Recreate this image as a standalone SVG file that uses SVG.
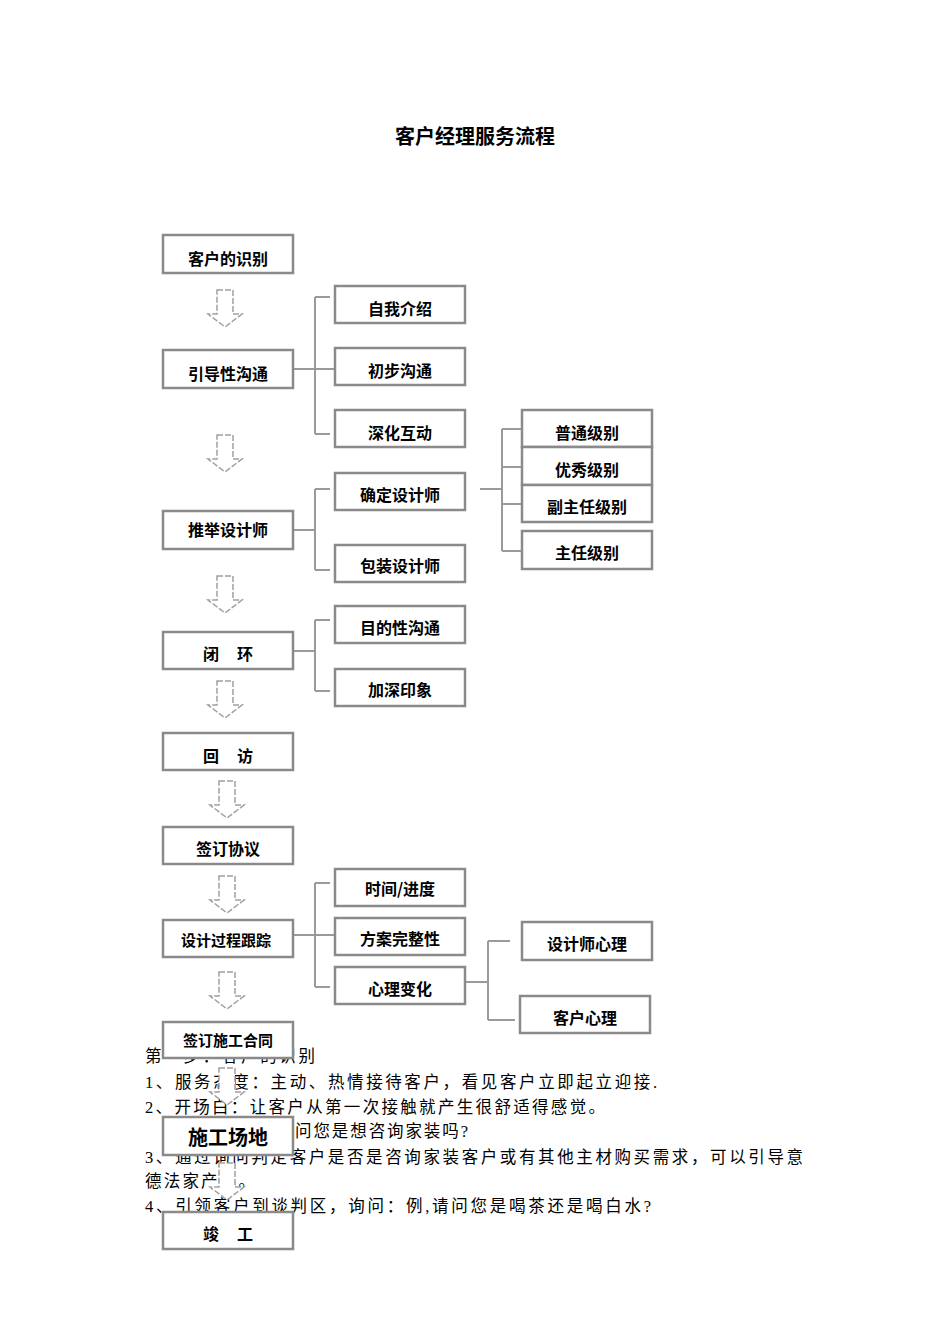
<svg xmlns="http://www.w3.org/2000/svg" width="950" height="1344" viewBox="0 0 950 1344">
<style>
.b{fill:#fff;stroke:#8a8a8a;stroke-width:2.5}
.t{font-family:"Noto Sans CJK SC","Noto Sans CJK JP",sans-serif;font-weight:bold;font-size:16px;fill:#000;text-anchor:middle}
.p{font-family:"Liberation Serif","Noto Sans CJK SC",serif;font-size:16.5px;fill:#000}
.l{fill:none;stroke:#9a9a9a;stroke-width:2}
.a{fill:#fff;stroke:#a0a0a0;stroke-width:1.5;stroke-dasharray:6 2}
</style>
<defs>
<path id="arr" d="M-8,0 H8 V24 H17 L0,37 L-17,24 H-8 Z"/>
</defs>
<rect width="950" height="1344" fill="#fff"/>
<text x="475" y="144" class="t" style="font-size:20px">客户经理服务流程</text>
<g id="para" class="p">
<text x="145" y="1062" textLength="170" lengthAdjust="spacing">第一步：客户的识别</text>
<text x="145" y="1088" textLength="512" lengthAdjust="spacing">1、服务态度：主动、热情接待客户，看见客户立即起立迎接.</text>
<text x="145" y="1113" textLength="460" lengthAdjust="spacing">2、开场白：让客户从第一次接触就产生很舒适得感觉。</text>
<text x="295" y="1137" textLength="173" lengthAdjust="spacing">问您是想咨询家装吗?</text>
<text x="145" y="1163" textLength="658" lengthAdjust="spacing">3、通过询问判定客户是否是咨询家装客户或有其他主材购买需求，可以引导意</text>
<text x="145" y="1187" textLength="110" lengthAdjust="spacing">德法家产品。</text>
<text x="145" y="1212" textLength="506" lengthAdjust="spacing">4、引领客户到谈判区，询问：例,请问您是喝茶还是喝白水?</text>
</g>
<g id="connectors">
<path class="l" d="M293,369 H335 M315,297 V434 M315,297 H330 M315,434 H330"/>
<path class="l" d="M293,530 H315 M315,489 V570 M315,489 H330 M315,570 H330"/>
<path class="l" d="M480,489 H502 M502,429 V551 M502,429 H522 M502,467 H522 M502,504 H522 M502,551 H522"/>
<path class="l" d="M293,651 H315 M315,620 V691 M315,620 H330 M315,691 H330"/>
<path class="l" d="M293,935 H335 M315,883 V987 M315,883 H330 M315,987 H330"/>
<path class="l" d="M465,982 H488 M488,941 V1020 M488,941 H510 M488,1020 H515"/>
<use href="#arr" class="a" x="225" y="290"/>
<use href="#arr" class="a" x="225" y="435"/>
<use href="#arr" class="a" x="225" y="576"/>
<use href="#arr" class="a" x="225" y="681"/>
<use href="#arr" class="a" x="227" y="781"/>
<use href="#arr" class="a" x="227" y="876"/>
<use href="#arr" class="a" x="227" y="972"/>
<use href="#arr" class="a" x="227" y="1068"/>
<use href="#arr" class="a" x="227" y="1163"/>
</g>
<g id="n1"><rect class="b" x="163" y="235" width="130" height="38"/><text class="t" x="228" y="265">客户的识别</text></g>
<g id="n2"><rect class="b" x="163" y="350" width="130" height="38"/><text class="t" x="228" y="380">引导性沟通</text></g>
<g id="n3"><rect class="b" x="163" y="511" width="130" height="38"/><text class="t" x="228" y="536">推举设计师</text></g>
<g id="n4"><rect class="b" x="163" y="632" width="130" height="37"/><text class="t" x="228" y="660" xml:space="preserve">闭     环</text></g>
<g id="n5"><rect class="b" x="163" y="733" width="130" height="37"/><text class="t" x="228" y="762" xml:space="preserve">回     访</text></g>
<g id="n6"><rect class="b" x="163" y="827" width="130" height="37"/><text class="t" x="228" y="855">签订协议</text></g>
<g id="n7"><rect class="b" x="163" y="920" width="130" height="37"/><text class="t" x="226" y="946" style="font-size:15px">设计过程跟踪</text></g>
<g id="n8"><rect class="b" x="163" y="1022" width="130" height="36"/><text class="t" x="228" y="1046" style="font-size:15px">签订施工合同</text></g>
<g id="n9"><rect class="b" x="163" y="1117" width="130" height="38"/><text class="t" x="228" y="1145" style="font-size:20px">施工场地</text></g>
<g id="n10"><rect class="b" x="163" y="1212" width="130" height="37"/><text class="t" x="228" y="1240" xml:space="preserve">竣     工</text></g>
<g id="r1"><rect class="b" x="335" y="286" width="130" height="37"/><text class="t" x="400" y="315">自我介绍</text></g>
<g id="r2"><rect class="b" x="335" y="348" width="130" height="37"/><text class="t" x="400" y="377">初步沟通</text></g>
<g id="r3"><rect class="b" x="335" y="410" width="130" height="37"/><text class="t" x="400" y="439">深化互动</text></g>
<g id="r4"><rect class="b" x="335" y="473" width="130" height="37"/><text class="t" x="400" y="501">确定设计师</text></g>
<g id="r5"><rect class="b" x="335" y="545" width="130" height="37"/><text class="t" x="400" y="572">包装设计师</text></g>
<g id="r6"><rect class="b" x="335" y="606" width="130" height="37"/><text class="t" x="400" y="634">目的性沟通</text></g>
<g id="r7"><rect class="b" x="335" y="669" width="130" height="37"/><text class="t" x="400" y="696">加深印象</text></g>
<g id="r8"><rect class="b" x="335" y="869" width="130" height="37"/><text class="t" x="400" y="895">时间/进度</text></g>
<g id="r9"><rect class="b" x="335" y="918" width="130" height="37"/><text class="t" x="400" y="945">方案完整性</text></g>
<g id="r10"><rect class="b" x="335" y="967" width="130" height="37"/><text class="t" x="400" y="995">心理变化</text></g>
<g id="s1"><rect class="b" x="522" y="410" width="130" height="37"/><text class="t" x="587" y="439">普通级别</text></g>
<g id="s2"><rect class="b" x="522" y="447" width="130" height="38"/><text class="t" x="587" y="476">优秀级别</text></g>
<g id="s3"><rect class="b" x="522" y="485" width="130" height="37"/><text class="t" x="587" y="513">副主任级别</text></g>
<g id="s4"><rect class="b" x="522" y="531" width="130" height="38"/><text class="t" x="587" y="559">主任级别</text></g>
<g id="s5"><rect class="b" x="522" y="922" width="130" height="38"/><text class="t" x="587" y="950">设计师心理</text></g>
<g id="s6"><rect class="b" x="520" y="996" width="130" height="37"/><text class="t" x="585" y="1024">客户心理</text></g>
</svg>
